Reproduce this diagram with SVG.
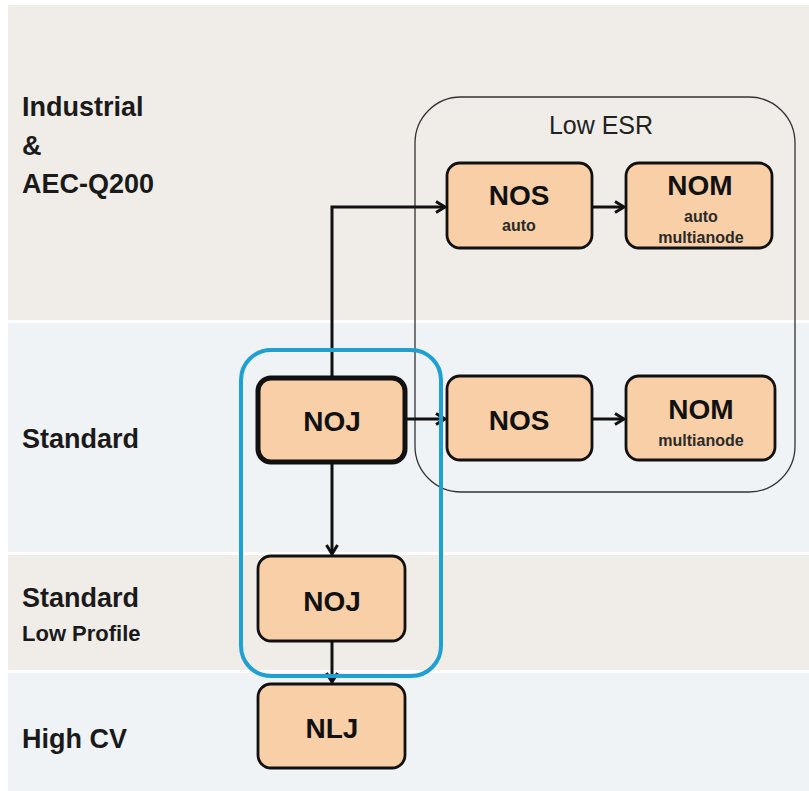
<svg xmlns="http://www.w3.org/2000/svg" width="809" height="791" viewBox="0 0 809 791">
<defs>
<style>
.band1{fill:#f0ede8}
.band2{fill:#eff3f6}
.node{fill:#f9cfa7;stroke:#111;stroke-width:2.8}
.lbl{font-family:"Liberation Sans",Arial,sans-serif;font-weight:bold;fill:#1a1a1a}
.nt{font-family:"Liberation Sans",Arial,sans-serif;font-weight:bold;fill:#111;text-anchor:middle;font-size:28px}
.st{font-family:"Liberation Sans",Arial,sans-serif;font-weight:bold;fill:#2a2a2a;text-anchor:middle;font-size:16px}
.conn{fill:none;stroke:#111;stroke-width:3}
</style>
<marker id="arr" viewBox="0 0 14 14" refX="12" refY="7" markerWidth="14" markerHeight="14" markerUnits="userSpaceOnUse" orient="auto">
<path d="M3,1.5 L12,7 L3,12.5" fill="none" stroke="#111" stroke-width="3"/>
</marker>
</defs>
<rect x="0" y="0" width="809" height="791" fill="#ffffff"/>
<rect class="band1" x="8" y="5" width="801" height="315"/>
<rect class="band2" x="8" y="323" width="801" height="229"/>
<rect class="band1" x="8" y="555" width="801" height="115"/>
<rect class="band2" x="8" y="673" width="801" height="118"/>

<g id="labels">
<text class="lbl" x="22" y="116" font-size="27">Industrial</text>
<text class="lbl" x="22" y="155" font-size="27">&amp;</text>
<text class="lbl" x="22" y="193" font-size="27">AEC-Q200</text>
<text class="lbl" x="22" y="448" font-size="27">Standard</text>
<text class="lbl" x="22" y="607" font-size="27">Standard</text>
<text class="lbl" x="22" y="641" font-size="22">Low Profile</text>
<text class="lbl" x="22" y="748" font-size="27">High CV</text>
</g>

<g id="lowesr">
<rect x="415" y="97" width="380" height="395" rx="46" fill="none" stroke="#333" stroke-width="1.3"/>
<text x="601" y="134" font-family="Liberation Sans,Arial,sans-serif" font-size="25" fill="#222" text-anchor="middle">Low ESR</text>
</g>

<g id="connectors">
<path class="conn" d="M332,378 V207 H445" marker-end="url(#arr)"/>
<path class="conn" d="M592,207 H624" marker-end="url(#arr)"/>
<path class="conn" d="M407,419 H445" marker-end="url(#arr)"/>
<path class="conn" d="M592,419 H624" marker-end="url(#arr)"/>
<path class="conn" d="M332,464 V554" marker-end="url(#arr)"/>
<path class="conn" d="M332,641 V682" marker-end="url(#arr)"/>
</g>

<g id="standard-group">
<rect x="241" y="350" width="200" height="326" rx="30" fill="none" stroke="#1ea0d2" stroke-width="4"/>
</g>

<g id="nos-auto">
<rect class="node" x="447" y="163" width="145" height="85" rx="13"/>
<text class="nt" x="519" y="205">NOS</text>
<text class="st" x="519" y="231">auto</text>
</g>
<g id="nom-auto">
<rect class="node" x="626" y="163" width="146" height="85" rx="13"/>
<text class="nt" x="700" y="195">NOM</text>
<text class="st" x="701" y="222">auto</text>
<text class="st" x="701" y="243">multianode</text>
</g>
<g id="noj-std">
<rect x="258" y="378" width="147" height="84" rx="13" fill="#f9cfa7" stroke="#111" stroke-width="5"/>
<text class="nt" x="332" y="431">NOJ</text>
</g>
<g id="nos-std">
<rect class="node" x="447" y="376" width="145" height="84" rx="13"/>
<text class="nt" x="519" y="430">NOS</text>
</g>
<g id="nom-std">
<rect class="node" x="626" y="376" width="149" height="84" rx="13"/>
<text class="nt" x="701" y="419">NOM</text>
<text class="st" x="701" y="446">multianode</text>
</g>
<g id="noj-lp">
<rect class="node" x="258" y="556" width="147" height="85" rx="13"/>
<text class="nt" x="332" y="611">NOJ</text>
</g>
<g id="nlj">
<rect class="node" x="258" y="684" width="147" height="84" rx="13"/>
<text class="nt" x="332" y="738">NLJ</text>
</g>
</svg>
